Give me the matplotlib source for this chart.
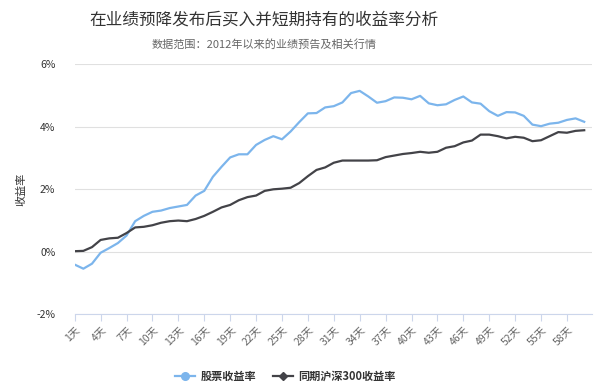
import matplotlib
matplotlib.use('Agg')
import matplotlib.pyplot as plt
from matplotlib.lines import Line2D

plt.rcParams['font.family'] = ['Noto Sans CJK SC', 'DejaVu Sans']

days = [f'{i}天' for i in range(1, 61)]

stock_ret = [-0.41, -0.54, -0.38, -0.03, 0.12, 0.28, 0.52, 0.98, 1.15, 1.28,
             1.32, 1.40, 1.45, 1.50, 1.80, 1.95, 2.40, 2.72, 3.02, 3.12,
             3.12, 3.42, 3.58, 3.70, 3.60, 3.85, 4.15, 4.43, 4.44, 4.62,
             4.66, 4.78, 5.08, 5.15, 4.97, 4.77, 4.82, 4.94, 4.93, 4.88,
             4.99, 4.75, 4.69, 4.72, 4.86, 4.97, 4.78, 4.74, 4.50, 4.35,
             4.47, 4.46, 4.35, 4.07, 4.02, 4.10, 4.13, 4.22, 4.27, 4.16]

hs300_ret = [0.02, 0.03, 0.15, 0.38, 0.43, 0.45, 0.60, 0.78, 0.80, 0.85,
             0.93, 0.98, 1.00, 0.98, 1.05, 1.15, 1.28, 1.42, 1.50, 1.65,
             1.75, 1.80, 1.95, 2.00, 2.02, 2.05, 2.20, 2.42, 2.62, 2.70,
             2.85, 2.92, 2.92, 2.92, 2.92, 2.93, 3.03, 3.08, 3.13, 3.16,
             3.20, 3.17, 3.20, 3.33, 3.38, 3.50, 3.56, 3.75, 3.75, 3.70,
             3.63, 3.68, 3.65, 3.54, 3.57, 3.70, 3.83, 3.81, 3.87, 3.89]

y_ticks = [-2, 0, 2, 4, 6]

blue = '#7cb5ec'
dark = '#434348'

fig = plt.figure(figsize=(5.94, 3.85), dpi=100)
ax = fig.add_axes([0.1258, 0.1836, 0.8708, 0.6494])

x = list(range(len(days)))
ax.plot(x, stock_ret, color=blue, lw=1.6, solid_joinstyle='round', zorder=3)
ax.plot(x, hs300_ret, color=dark, lw=1.6, solid_joinstyle='round', zorder=3)

ax.set_xlim(0, 59.9)
ax.set_ylim(-2, 6)
ax.set_yticks(y_ticks)
ax.set_yticklabels([f'{v}%' for v in y_ticks], fontsize=7.5, color='#333333')
ax.grid(axis='y', color='#e0e0e0', lw=0.8)
ax.set_axisbelow(True)

ax.set_xticks(x[::3])
ax.set_xticklabels(days[::3], rotation=45, ha='right', rotation_mode='anchor',
                   fontsize=7.5, color='#666666')
ax.tick_params(axis='x', length=5, width=0.8, color='#ccd6eb', pad=2)
ax.tick_params(axis='y', length=0, pad=14)

for s in ['top', 'right', 'left']:
    ax.spines[s].set_visible(False)
ax.spines['bottom'].set_color('#ccd6eb')
ax.spines['bottom'].set_linewidth(0.8)

ax.set_ylabel('收益率', fontsize=8, color='#333333', labelpad=7)

fig.text(0.444, 0.948, '在业绩预降发布后买入并短期持有的收益率分析',
         ha='center', va='center', fontsize=12, color='#333333')
fig.text(0.444, 0.885, '数据范围：2012年以来的业绩预告及相关行情',
         ha='center', va='center', fontsize=8, color='#666666')

handles = [Line2D([], [], color=blue, lw=1.6, marker='o', markersize=5.5),
           Line2D([], [], color=dark, lw=1.6, marker='D', markersize=4.5)]
fig.legend(handles, ['股票收益率', '同期沪深300收益率'], loc='center',
           bbox_to_anchor=(0.48, 0.022), ncol=2, frameon=False,
           prop={'size': 8, 'weight': 'bold'}, labelcolor='#333333',
           handlelength=1.8, columnspacing=1.5, handletextpad=0.5)

fig.savefig('out.png', dpi=100)
